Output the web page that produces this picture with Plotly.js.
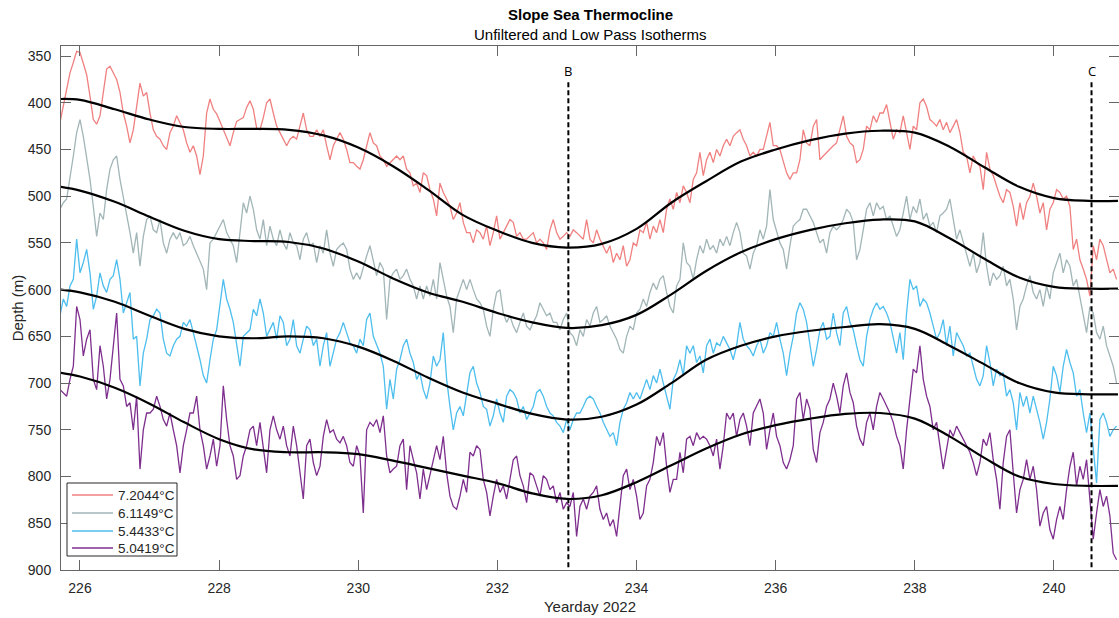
<!DOCTYPE html>
<html>
<head>
<meta charset="utf-8">
<script src="https://cdn.plot.ly/plotly-3.0.1.min.js"></script>
<style>html,body{margin:0;padding:0;background:#fff}#chart{width:1119px;height:618px}</style>
</head>
<body>
<div id="chart"></div>
<script>
// ---- Data ----
// Unfiltered isotherm depths (m), sampled every 0.0479 yearday starting at 225.7125
const startDay = 225.7125;
const sampleStep = 0.04791;

const depth7_2044 = [
  421,404,386,368,357,345,346,357,370,393,418,423,414,389,364,361,368,375,389,411,425,443,429,404,379,393,389,411,429,436,439,446,450,432,425,414,421,429,443,453,446,457,477,457,411,396,407,412,420,429,439,446,432,420,418,416,405,398,407,427,429,416,400,
  396,411,425,432,439,446,439,436,439,425,411,429,436,436,429,436,429,446,461,446,439,432,439,450,464,464,468,471,461,446,432,443,446,457,461,468,464,461,457,461,457,471,475,489,486,496,475,478,493,503,521,486,496,503,511,525,518,507,528,539,539,550,536,
  539,546,532,553,539,521,546,539,532,525,528,543,539,546,546,543,539,550,546,550,557,536,525,539,546,543,539,543,536,539,543,546,525,546,550,536,546,553,561,553,571,561,568,553,575,568,550,553,536,539,528,546,532,539,525,539,514,503,514,496,507,489,496,
  507,482,475,453,478,461,453,464,450,457,446,439,446,436,432,429,439,446,457,453,457,450,450,436,421,446,446,450,464,475,482,475,475,461,429,443,446,425,418,461,457,453,450,446,443,429,414,436,443,446,464,461,450,425,429,414,421,411,411,402,421,439,429,
  432,414,432,450,425,429,400,396,404,418,421,425,418,429,421,432,425,418,432,453,457,475,457,464,468,493,453,471,478,489,500,507,493,496,511,532,507,525,507,500,486,500,518,507,536,514,507,493,496,503,500,511,557,546,568,578,589,607,553,568,546,553,568,582,578,589
];
const depth6_1149 = [
  514,507,503,482,457,432,418,436,457,482,511,543,518,525,493,471,461,457,482,500,518,539,561,539,575,543,525,521,536,539,525,550,561,546,539,546,539,553,550,543,553,561,571,578,600,550,546,539,532,525,539,546,553,571,539,507,518,500,514,536,546,525,553,
  532,546,553,536,550,557,539,550,553,568,546,539,553,550,571,553,561,536,561,575,557,553,550,557,578,589,582,589,575,564,553,571,585,571,578,632,589,582,578,589,585,578,589,596,610,596,610,596,607,589,610,571,589,607,618,646,610,600,589,600,589,600,610,
  614,621,639,650,621,603,600,625,635,628,639,646,635,625,639,643,635,628,614,621,628,625,635,635,643,632,625,646,650,660,643,650,632,639,625,618,635,632,628,639,646,653,664,668,650,639,643,625,621,610,618,603,593,600,589,585,603,618,625,596,589,550,571,
  575,589,568,553,561,546,557,553,561,546,553,543,553,539,528,539,561,564,578,561,553,536,546,532,493,525,539,550,557,578,553,532,528,525,514,514,521,528,539,550,546,561,539,532,536,532,525,514,518,528,568,557,536,514,507,521,507,514,511,525,521,532,543,
  536,518,500,525,511,518,503,525,518,532,528,539,521,518,514,503,525,546,536,550,561,575,561,582,571,539,575,596,582,589,585,575,596,589,610,643,618,610,596,585,603,610,600,618,596,610,582,571,561,582,568,575,596,589,607,625,646,618,625,646,653,639,660,671,682,700
];
const depth5_4433 = [
  628,610,618,596,589,546,582,571,557,582,621,607,582,596,603,589,585,568,589,625,614,603,653,650,703,668,653,632,628,621,625,653,668,671,660,653,650,635,639,632,646,660,675,692,700,675,653,643,618,589,610,621,635,660,682,650,646,643,621,628,610,625,650,
  643,635,653,628,635,660,653,632,660,668,653,639,643,660,653,682,660,646,682,668,653,646,635,646,657,660,668,653,660,632,625,650,660,668,682,728,696,717,685,675,660,653,668,678,696,689,707,717,700,671,682,675,646,696,725,750,732,725,735,714,689,682,700,
  710,725,728,746,735,717,732,742,714,707,710,717,732,725,739,732,725,710,707,714,725,732,735,742,746,753,739,750,739,732,732,725,717,714,717,725,732,742,750,757,753,767,742,728,721,710,717,710,717,707,696,707,692,700,685,700,714,728,696,689,675,692,660,
  668,660,678,671,689,660,653,668,657,660,650,657,664,675,660,635,653,660,664,671,660,653,668,660,646,650,635,653,668,692,668,650,625,614,621,635,660,682,664,643,635,653,650,625,646,660,625,618,635,643,660,675,682,650,632,621,614,621,618,625,635,653,668,
  646,675,625,589,600,596,618,610,614,625,639,653,646,632,660,639,671,646,653,660,671,668,682,696,703,692,660,678,703,685,692,689,714,707,721,750,710,725,714,732,714,728,742,760,742,717,682,692,710,682,664,678,689,714,707,732,753,732,767,807,739,732,742,757,750,746
];
const depth5_0419 = [
  707,710,714,696,682,618,632,671,653,643,696,707,660,682,717,696,660,625,696,703,725,721,750,714,792,750,732,732,728,714,725,739,746,732,750,767,796,767,750,732,732,714,750,767,792,778,760,789,767,703,739,767,778,803,799,778,767,750,746,767,742,767,796,
  750,735,750,760,746,767,778,746,767,796,824,767,760,785,799,789,757,739,753,750,760,764,757,767,785,789,767,778,839,750,742,746,739,753,735,778,796,792,789,767,760,814,767,782,796,824,792,814,799,785,767,782,757,796,821,832,835,821,803,817,774,778,767,
  771,803,817,842,821,803,817,810,824,803,782,778,799,810,828,796,799,810,821,799,803,814,810,828,817,835,828,832,817,864,832,824,835,821,817,810,835,846,839,853,846,864,832,799,792,814,803,821,846,839,810,803,785,757,767,753,789,817,803,803,774,796,760,
  757,767,753,760,757,760,767,778,760,792,767,732,739,732,757,739,732,746,767,732,725,717,732,771,750,732,757,767,785,792,782,767,717,710,739,717,728,771,785,753,742,725,717,700,714,732,703,689,710,721,746,760,767,742,732,750,725,710,717,725,732,742,757,
  767,792,750,714,685,689,660,696,714,725,750,742,767,792,771,750,757,746,753,760,767,774,785,799,785,760,767,753,782,803,835,785,757,750,796,839,814,803,782,803,789,814,853,839,832,857,867,846,832,846,814,789,774,810,789,803,782,821,867,839,814,832,821,842,882,889
];

// Low-pass isotherm depths (m)
const lowPassDays = [225.72,226,226.5,227,227.5,228,228.5,229,229.5,230,230.5,231,231.5,232,232.5,233,233.5,234,234.5,235,235.5,236,236.5,237,237.5,238,238.5,239,239.5,240,240.5,240.92];
const lowPass7_2044 = [396,397,407,418,426,428,428,429,435,448,468,493,520,537,550,555,551,535,507,484,463,450,440,433,430,432,447,469,490,502,505,505];
const lowPass6_1149 = [490,494,506,522,537,546,548,549,556,570,588,603,613,625,635,641,638,627,605,580,560,546,536,529,525,527,545,567,587,597,599,599];
const lowPass5_4433 = [600,603,613,628,642,650,652,650,652,661,676,694,710,722,733,739,736,723,700,675,660,650,644,640,637,642,660,680,700,710,712,712];
const lowPass5_0419 = [689,693,705,722,742,760,771,774,774,776,783,791,799,807,818,824,820,806,788,770,755,745,738,733,732,738,757,780,800,808,810,810];

const seriesNames = ['7.2044\u00B0C','6.1149\u00B0C','5.4433\u00B0C','5.0419\u00B0C'];
const seriesColors = ['#F08080','#A2B5B7','#4DBEEE','#7E2F8E'];

// Section markers
const markerDays = [233.02, 240.54];
const markerLabels = ['B','C'];
const markerTop = 378;
const markerLabelDepth = 366;

// Axis ticks
const xTicks = [226,228,230,232,234,236,238,240];
const yTicks = [350,400,450,500,550,600,650,700,750,800,850,900];

// ---- Build traces ----
const raw = [depth7_2044, depth6_1149, depth5_4433, depth5_0419];
const lows = [lowPass7_2044, lowPass6_1149, lowPass5_4433, lowPass5_0419];

const traces = [];
raw.forEach((ys, k) => {
  const days = ys.map((_, i) => +(startDay + i * sampleStep).toFixed(4));
  traces.push({
    x: days, y: ys, type: 'scatter', mode: 'lines', name: seriesNames[k],
    line: {color: seriesColors[k], width: 1.3}, showlegend: false
  });
});
lows.forEach((ys) => {
  traces.push({
    x: lowPassDays, y: ys, type: 'scatter', mode: 'lines',
    line: {color: '#000000', width: 2.2, shape: 'spline', smoothing: 1},
    showlegend: false, hoverinfo: 'skip'
  });
});
markerDays.forEach((d) => {
  traces.push({
    x: [d, d], y: [markerTop, 900], type: 'scatter', mode: 'lines',
    line: {color: '#000000', width: 2, dash: '5px,3px'},
    showlegend: false, hoverinfo: 'skip'
  });
});

const font = 'Liberation Sans, Arial, Helvetica, sans-serif';

// plot area geometry (pixels) for placing the legend box
const plotL = 61, plotW = 1058, plotBottom = 570, plotH = 524;
const px2x = (px) => (px - plotL) / plotW;
const py2y = (py) => (plotBottom - py) / plotH;

const shapes = [{
  type: 'rect', xref: 'paper', yref: 'paper',
  x0: px2x(67), x1: px2x(177), y0: py2y(556), y1: py2y(483),
  line: {color: '#262626', width: 1}, fillcolor: '#ffffff', layer: 'above'
}];
const annotations = [];
const legendRows = [495, 513, 531, 548];
seriesNames.forEach((nm, k) => {
  shapes.push({
    type: 'line', xref: 'paper', yref: 'paper',
    x0: px2x(72), x1: px2x(113), y0: py2y(legendRows[k]), y1: py2y(legendRows[k]),
    line: {color: seriesColors[k], width: 1.5}, layer: 'above'
  });
  annotations.push({
    x: px2x(116), y: py2y(legendRows[k]), xref: 'paper', yref: 'paper', text: nm,
    showarrow: false, xanchor: 'left', yanchor: 'middle',
    font: {family: font, size: 13.5, color: '#262626'}
  });
});

markerDays.forEach((d, i) => annotations.push({
  x: d, y: markerLabelDepth, xref: 'x', yref: 'y', text: markerLabels[i],
  showarrow: false, font: {family: 'Open Sans, DejaVu Sans, sans-serif', size: 13, color: '#000'},
  xanchor: 'center', yanchor: 'middle'
}));
annotations.push({
  x: 0.5, y: 1.061, xref: 'paper', yref: 'paper', text: '<b>Slope Sea Thermocline</b>',
  showarrow: false, font: {family: font, size: 15, color: '#000'}, xanchor: 'center', yanchor: 'middle'
});
annotations.push({
  x: 0.5, y: 1.021, xref: 'paper', yref: 'paper', text: 'Unfiltered and Low Pass Isotherms',
  showarrow: false, font: {family: font, size: 15, color: '#000'}, xanchor: 'center', yanchor: 'middle'
});

const layout = {
  width: 1119, height: 618,
  margin: {l: 61, r: 0, t: 46, b: 48, pad: 0},
  paper_bgcolor: '#ffffff', plot_bgcolor: '#ffffff',
  font: {family: font, color: '#262626'},
  showlegend: false,
  xaxis: {
    range: [225.727, 240.935], tickvals: xTicks, ticks: 'inside', ticklen: 10,
    tickcolor: '#666', showline: true, linecolor: '#666', mirror: 'ticks',
    showgrid: false, zeroline: false, ticklabelstandoff: 5,
    tickfont: {family: font, size: 14, color: '#262626'},
    title: {text: 'Yearday 2022', font: {family: font, size: 15, color: '#262626'}, standoff: 6}
  },
  yaxis: {
    range: [900, 339.3], tickvals: yTicks, ticks: 'inside', ticklen: 10,
    tickcolor: '#666', showline: true, linecolor: '#666', mirror: 'ticks',
    showgrid: false, zeroline: false, ticklabelstandoff: 6,
    tickfont: {family: font, size: 14, color: '#262626'},
    title: {text: 'Depth (m)', font: {family: font, size: 15, color: '#262626'}, standoff: 0}
  },
  shapes: shapes,
  annotations: annotations
};

Plotly.newPlot('chart', traces, layout, {displayModeBar: false, staticPlot: true});
</script>
</body>
</html>
